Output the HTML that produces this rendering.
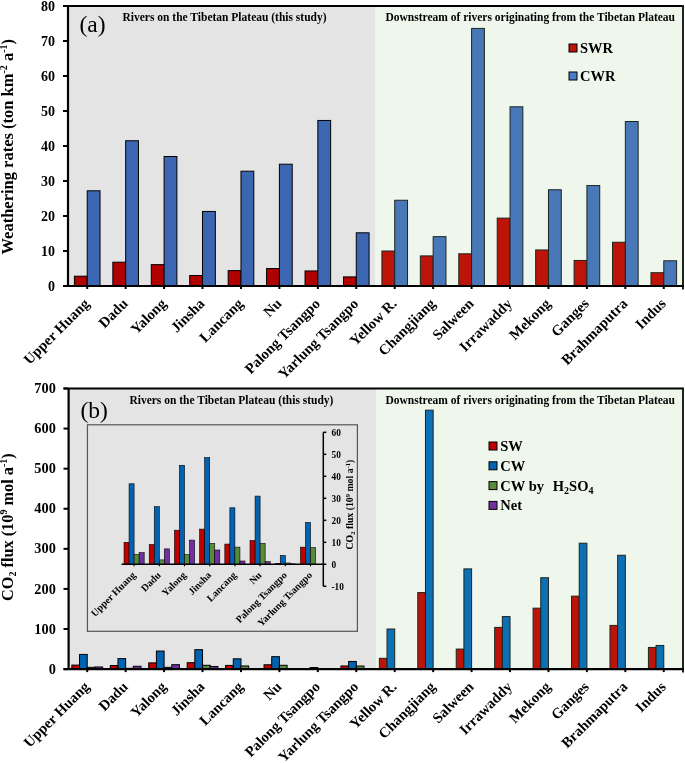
<!DOCTYPE html>
<html><head><meta charset="utf-8"><style>
html,body{margin:0;padding:0;background:#fff;width:685px;height:763px;overflow:hidden}
svg{display:block;will-change:transform}
</style></head><body>
<svg width="685" height="763" viewBox="0 0 685 763">
<rect x="68.0" y="6.0" width="307.0" height="280.0" fill="#e4e4e4"/>
<rect x="375.0" y="6.0" width="308.0" height="280.0" fill="#eff6ec"/>
<rect x="74.41" y="276.20" width="12.81" height="9.80" fill="#b00000" stroke="#000" stroke-width="1"/>
<rect x="87.22" y="190.80" width="12.81" height="95.20" fill="#3d66b2" stroke="#000" stroke-width="1"/>
<rect x="112.84" y="262.20" width="12.81" height="23.80" fill="#b00000" stroke="#000" stroke-width="1"/>
<rect x="125.66" y="140.75" width="12.81" height="145.25" fill="#3d66b2" stroke="#000" stroke-width="1"/>
<rect x="151.28" y="264.65" width="12.81" height="21.35" fill="#b00000" stroke="#000" stroke-width="1"/>
<rect x="164.09" y="156.50" width="12.81" height="129.50" fill="#3d66b2" stroke="#000" stroke-width="1"/>
<rect x="189.72" y="275.50" width="12.81" height="10.50" fill="#b00000" stroke="#000" stroke-width="1"/>
<rect x="202.53" y="211.45" width="12.81" height="74.55" fill="#3d66b2" stroke="#000" stroke-width="1"/>
<rect x="228.16" y="270.60" width="12.81" height="15.40" fill="#b00000" stroke="#000" stroke-width="1"/>
<rect x="240.97" y="171.20" width="12.81" height="114.80" fill="#3d66b2" stroke="#000" stroke-width="1"/>
<rect x="266.59" y="268.50" width="12.81" height="17.50" fill="#b00000" stroke="#000" stroke-width="1"/>
<rect x="279.41" y="164.20" width="12.81" height="121.80" fill="#3d66b2" stroke="#000" stroke-width="1"/>
<rect x="305.03" y="270.95" width="12.81" height="15.05" fill="#b00000" stroke="#000" stroke-width="1"/>
<rect x="317.84" y="120.45" width="12.81" height="165.55" fill="#3d66b2" stroke="#000" stroke-width="1"/>
<rect x="343.47" y="276.90" width="12.81" height="9.10" fill="#b00000" stroke="#000" stroke-width="1"/>
<rect x="356.28" y="232.80" width="12.81" height="53.20" fill="#3d66b2" stroke="#000" stroke-width="1"/>
<rect x="381.91" y="251.00" width="12.81" height="35.00" fill="#bd140a" stroke="#1c2620" stroke-width="1"/>
<rect x="394.72" y="200.25" width="12.81" height="85.75" fill="#4878b8" stroke="#1c2620" stroke-width="1"/>
<rect x="420.34" y="255.90" width="12.81" height="30.10" fill="#bd140a" stroke="#1c2620" stroke-width="1"/>
<rect x="433.16" y="236.65" width="12.81" height="49.35" fill="#4878b8" stroke="#1c2620" stroke-width="1"/>
<rect x="458.78" y="253.80" width="12.81" height="32.20" fill="#bd140a" stroke="#1c2620" stroke-width="1"/>
<rect x="471.59" y="28.40" width="12.81" height="257.60" fill="#4878b8" stroke="#1c2620" stroke-width="1"/>
<rect x="497.22" y="218.10" width="12.81" height="67.90" fill="#bd140a" stroke="#1c2620" stroke-width="1"/>
<rect x="510.03" y="106.80" width="12.81" height="179.20" fill="#4878b8" stroke="#1c2620" stroke-width="1"/>
<rect x="535.66" y="249.95" width="12.81" height="36.05" fill="#bd140a" stroke="#1c2620" stroke-width="1"/>
<rect x="548.47" y="189.75" width="12.81" height="96.25" fill="#4878b8" stroke="#1c2620" stroke-width="1"/>
<rect x="574.09" y="260.45" width="12.81" height="25.55" fill="#bd140a" stroke="#1c2620" stroke-width="1"/>
<rect x="586.91" y="185.55" width="12.81" height="100.45" fill="#4878b8" stroke="#1c2620" stroke-width="1"/>
<rect x="612.53" y="242.25" width="12.81" height="43.75" fill="#bd140a" stroke="#1c2620" stroke-width="1"/>
<rect x="625.34" y="121.50" width="12.81" height="164.50" fill="#4878b8" stroke="#1c2620" stroke-width="1"/>
<rect x="650.97" y="272.70" width="12.81" height="13.30" fill="#bd140a" stroke="#1c2620" stroke-width="1"/>
<rect x="663.78" y="260.80" width="12.81" height="25.20" fill="#4878b8" stroke="#1c2620" stroke-width="1"/>
<path d="M68.0 6.0 V286.0" stroke="#000" stroke-width="2.2" fill="none"/>
<path d="M63.0 6.0 H683.0" stroke="#000" stroke-width="2" fill="none"/>
<path d="M683.0 5.0 V289.5" stroke="#1a241a" stroke-width="2" fill="none"/>
<path d="M63.0 286.0 H684.0" stroke="#000" stroke-width="2.2" fill="none"/>
<path d="M63.0 286.00 H68.0" stroke="#000" stroke-width="2"/>
<text x="55.0" y="290.50" text-anchor="end" style="font-family:'Liberation Serif',serif;font-weight:bold;font-size:14px">0</text>
<path d="M63.0 251.00 H68.0" stroke="#000" stroke-width="2"/>
<text x="55.0" y="255.50" text-anchor="end" style="font-family:'Liberation Serif',serif;font-weight:bold;font-size:14px">10</text>
<path d="M63.0 216.00 H68.0" stroke="#000" stroke-width="2"/>
<text x="55.0" y="220.50" text-anchor="end" style="font-family:'Liberation Serif',serif;font-weight:bold;font-size:14px">20</text>
<path d="M63.0 181.00 H68.0" stroke="#000" stroke-width="2"/>
<text x="55.0" y="185.50" text-anchor="end" style="font-family:'Liberation Serif',serif;font-weight:bold;font-size:14px">30</text>
<path d="M63.0 146.00 H68.0" stroke="#000" stroke-width="2"/>
<text x="55.0" y="150.50" text-anchor="end" style="font-family:'Liberation Serif',serif;font-weight:bold;font-size:14px">40</text>
<path d="M63.0 111.00 H68.0" stroke="#000" stroke-width="2"/>
<text x="55.0" y="115.50" text-anchor="end" style="font-family:'Liberation Serif',serif;font-weight:bold;font-size:14px">50</text>
<path d="M63.0 76.00 H68.0" stroke="#000" stroke-width="2"/>
<text x="55.0" y="80.50" text-anchor="end" style="font-family:'Liberation Serif',serif;font-weight:bold;font-size:14px">60</text>
<path d="M63.0 41.00 H68.0" stroke="#000" stroke-width="2"/>
<text x="55.0" y="45.50" text-anchor="end" style="font-family:'Liberation Serif',serif;font-weight:bold;font-size:14px">70</text>
<path d="M63.0 6.00 H68.0" stroke="#000" stroke-width="2"/>
<text x="55.0" y="10.50" text-anchor="end" style="font-family:'Liberation Serif',serif;font-weight:bold;font-size:14px">80</text>
<path d="M87.22 286.0 V289.0" stroke="#000" stroke-width="2"/>
<text transform="translate(90.22,304.5) rotate(-45)" text-anchor="end" style="font-family:'Liberation Serif',serif;font-weight:bold;font-size:14.7px">Upper Huang</text>
<path d="M125.66 286.0 V289.0" stroke="#000" stroke-width="2"/>
<text transform="translate(128.66,304.5) rotate(-45)" text-anchor="end" style="font-family:'Liberation Serif',serif;font-weight:bold;font-size:14.7px">Dadu</text>
<path d="M164.09 286.0 V289.0" stroke="#000" stroke-width="2"/>
<text transform="translate(167.09,304.5) rotate(-45)" text-anchor="end" style="font-family:'Liberation Serif',serif;font-weight:bold;font-size:14.7px">Yalong</text>
<path d="M202.53 286.0 V289.0" stroke="#000" stroke-width="2"/>
<text transform="translate(205.53,304.5) rotate(-45)" text-anchor="end" style="font-family:'Liberation Serif',serif;font-weight:bold;font-size:14.7px">Jinsha</text>
<path d="M240.97 286.0 V289.0" stroke="#000" stroke-width="2"/>
<text transform="translate(243.97,304.5) rotate(-45)" text-anchor="end" style="font-family:'Liberation Serif',serif;font-weight:bold;font-size:14.7px">Lancang</text>
<path d="M279.41 286.0 V289.0" stroke="#000" stroke-width="2"/>
<text transform="translate(282.41,304.5) rotate(-45)" text-anchor="end" style="font-family:'Liberation Serif',serif;font-weight:bold;font-size:14.7px">Nu</text>
<path d="M317.84 286.0 V289.0" stroke="#000" stroke-width="2"/>
<text transform="translate(320.84,304.5) rotate(-45)" text-anchor="end" style="font-family:'Liberation Serif',serif;font-weight:bold;font-size:14.7px">Palong Tsangpo</text>
<path d="M356.28 286.0 V289.0" stroke="#000" stroke-width="2"/>
<text transform="translate(359.28,304.5) rotate(-45)" text-anchor="end" style="font-family:'Liberation Serif',serif;font-weight:bold;font-size:14.7px">Yarlung Tsangpo</text>
<path d="M394.72 286.0 V289.0" stroke="#000" stroke-width="2"/>
<text transform="translate(397.72,304.5) rotate(-45)" text-anchor="end" style="font-family:'Liberation Serif',serif;font-weight:bold;font-size:14.7px">Yellow R.</text>
<path d="M433.16 286.0 V289.0" stroke="#000" stroke-width="2"/>
<text transform="translate(436.16,304.5) rotate(-45)" text-anchor="end" style="font-family:'Liberation Serif',serif;font-weight:bold;font-size:14.7px">Changjiang</text>
<path d="M471.59 286.0 V289.0" stroke="#000" stroke-width="2"/>
<text transform="translate(474.59,304.5) rotate(-45)" text-anchor="end" style="font-family:'Liberation Serif',serif;font-weight:bold;font-size:14.7px">Salween</text>
<path d="M510.03 286.0 V289.0" stroke="#000" stroke-width="2"/>
<text transform="translate(513.03,304.5) rotate(-45)" text-anchor="end" style="font-family:'Liberation Serif',serif;font-weight:bold;font-size:14.7px">Irrawaddy</text>
<path d="M548.47 286.0 V289.0" stroke="#000" stroke-width="2"/>
<text transform="translate(551.47,304.5) rotate(-45)" text-anchor="end" style="font-family:'Liberation Serif',serif;font-weight:bold;font-size:14.7px">Mekong</text>
<path d="M586.91 286.0 V289.0" stroke="#000" stroke-width="2"/>
<text transform="translate(589.91,304.5) rotate(-45)" text-anchor="end" style="font-family:'Liberation Serif',serif;font-weight:bold;font-size:14.7px">Ganges</text>
<path d="M625.34 286.0 V289.0" stroke="#000" stroke-width="2"/>
<text transform="translate(628.34,304.5) rotate(-45)" text-anchor="end" style="font-family:'Liberation Serif',serif;font-weight:bold;font-size:14.7px">Brahmaputra</text>
<path d="M663.78 286.0 V289.0" stroke="#000" stroke-width="2"/>
<text transform="translate(666.78,304.5) rotate(-45)" text-anchor="end" style="font-family:'Liberation Serif',serif;font-weight:bold;font-size:14.7px">Indus</text>
<text x="79.5" y="31.8" style="font-family:'Liberation Serif',serif;font-size:23.5px">(a)</text>
<text x="122.5" y="21" style="font-family:'Liberation Serif',serif;font-weight:bold;font-size:11.5px">Rivers on the Tibetan Plateau (this study)</text>
<text x="385.5" y="21" style="font-family:'Liberation Serif',serif;font-weight:bold;font-size:11.5px">Downstream of rivers originating from the Tibetan Plateau</text>
<rect x="569" y="44" width="8" height="8" fill="#bd140a" stroke="#000" stroke-width="1"/>
<text x="580" y="53" style="font-family:'Liberation Serif',serif;font-weight:bold;font-size:14.5px">SWR</text>
<rect x="569" y="72" width="8" height="8" fill="#4a7cc8" stroke="#000" stroke-width="1"/>
<text x="580" y="81" style="font-family:'Liberation Serif',serif;font-weight:bold;font-size:14.5px">CWR</text>
<text transform="translate(12.5,254.5) rotate(-90)" style="font-family:'Liberation Serif',serif;font-weight:bold;font-size:16.5px">Weathering rates (ton km<tspan font-size="10" dy="-6">-2</tspan><tspan dy="6"> a</tspan><tspan font-size="10" dy="-6">-1</tspan><tspan dy="6">)</tspan></text>
<rect x="68.0" y="388.5" width="308.0" height="280.6" fill="#e4e4e4"/>
<rect x="376.0" y="388.5" width="307.0" height="280.6" fill="#eff6ec"/>
<rect x="71.84" y="665.09" width="7.69" height="4.01" fill="#c00000" stroke="#000" stroke-width="1"/>
<rect x="79.53" y="654.43" width="7.69" height="14.67" fill="#0062b0" stroke="#000" stroke-width="1"/>
<rect x="87.22" y="667.34" width="7.69" height="1.76" fill="#5a8a3c" stroke="#000" stroke-width="1"/>
<rect x="94.91" y="666.98" width="7.69" height="2.12" fill="#7030a0" stroke="#000" stroke-width="1"/>
<rect x="110.28" y="665.49" width="7.69" height="3.61" fill="#c00000" stroke="#000" stroke-width="1"/>
<rect x="117.97" y="658.60" width="7.69" height="10.50" fill="#0062b0" stroke="#000" stroke-width="1"/>
<rect x="125.66" y="668.30" width="7.69" height="0.80" fill="#5a8a3c" stroke="#000" stroke-width="1"/>
<rect x="133.34" y="666.29" width="7.69" height="2.81" fill="#7030a0" stroke="#000" stroke-width="1"/>
<rect x="148.72" y="662.89" width="7.69" height="6.21" fill="#c00000" stroke="#000" stroke-width="1"/>
<rect x="156.41" y="651.06" width="7.69" height="18.04" fill="#0062b0" stroke="#000" stroke-width="1"/>
<rect x="164.09" y="667.34" width="7.69" height="1.76" fill="#5a8a3c" stroke="#000" stroke-width="1"/>
<rect x="171.78" y="664.69" width="7.69" height="4.41" fill="#7030a0" stroke="#000" stroke-width="1"/>
<rect x="187.16" y="662.69" width="7.69" height="6.41" fill="#c00000" stroke="#000" stroke-width="1"/>
<rect x="194.84" y="649.66" width="7.69" height="19.44" fill="#0062b0" stroke="#000" stroke-width="1"/>
<rect x="202.53" y="665.29" width="7.69" height="3.81" fill="#5a8a3c" stroke="#000" stroke-width="1"/>
<rect x="210.22" y="666.49" width="7.69" height="2.61" fill="#7030a0" stroke="#000" stroke-width="1"/>
<rect x="225.59" y="665.41" width="7.69" height="3.69" fill="#c00000" stroke="#000" stroke-width="1"/>
<rect x="233.28" y="658.80" width="7.69" height="10.30" fill="#0062b0" stroke="#000" stroke-width="1"/>
<rect x="240.97" y="665.97" width="7.69" height="3.13" fill="#5a8a3c" stroke="#000" stroke-width="1"/>
<rect x="248.66" y="668.50" width="7.69" height="0.60" fill="#7030a0" stroke="#000" stroke-width="1"/>
<rect x="264.03" y="664.77" width="7.69" height="4.33" fill="#c00000" stroke="#000" stroke-width="1"/>
<rect x="271.72" y="656.67" width="7.69" height="12.43" fill="#0062b0" stroke="#000" stroke-width="1"/>
<rect x="279.41" y="665.29" width="7.69" height="3.81" fill="#5a8a3c" stroke="#000" stroke-width="1"/>
<rect x="287.09" y="668.62" width="7.69" height="0.48" fill="#7030a0" stroke="#000" stroke-width="1"/>
<rect x="302.47" y="668.94" width="7.69" height="0.16" fill="#c00000" stroke="#000" stroke-width="1"/>
<rect x="310.16" y="667.50" width="7.69" height="1.60" fill="#0062b0" stroke="#000" stroke-width="1"/>
<rect x="317.84" y="668.86" width="7.69" height="0.24" fill="#5a8a3c" stroke="#000" stroke-width="1"/>
<rect x="325.53" y="669.02" width="7.69" height="0.08" fill="#7030a0" stroke="#000" stroke-width="1"/>
<rect x="340.91" y="665.97" width="7.69" height="3.13" fill="#c00000" stroke="#000" stroke-width="1"/>
<rect x="348.59" y="661.48" width="7.69" height="7.62" fill="#0062b0" stroke="#000" stroke-width="1"/>
<rect x="356.28" y="666.05" width="7.69" height="3.05" fill="#5a8a3c" stroke="#000" stroke-width="1"/>
<rect x="379.34" y="658.28" width="7.69" height="10.82" fill="#bd140a" stroke="#1c2620" stroke-width="1"/>
<rect x="387.03" y="629.01" width="7.69" height="40.09" fill="#0c70b4" stroke="#1c2620" stroke-width="1"/>
<rect x="417.78" y="592.54" width="7.69" height="76.56" fill="#bd140a" stroke="#1c2620" stroke-width="1"/>
<rect x="425.47" y="410.15" width="7.69" height="258.95" fill="#0c70b4" stroke="#1c2620" stroke-width="1"/>
<rect x="456.22" y="649.06" width="7.69" height="20.04" fill="#bd140a" stroke="#1c2620" stroke-width="1"/>
<rect x="463.91" y="568.89" width="7.69" height="100.21" fill="#0c70b4" stroke="#1c2620" stroke-width="1"/>
<rect x="494.66" y="627.41" width="7.69" height="41.69" fill="#bd140a" stroke="#1c2620" stroke-width="1"/>
<rect x="502.34" y="616.59" width="7.69" height="52.51" fill="#0c70b4" stroke="#1c2620" stroke-width="1"/>
<rect x="533.09" y="608.17" width="7.69" height="60.93" fill="#bd140a" stroke="#1c2620" stroke-width="1"/>
<rect x="540.78" y="577.70" width="7.69" height="91.40" fill="#0c70b4" stroke="#1c2620" stroke-width="1"/>
<rect x="571.53" y="596.14" width="7.69" height="72.96" fill="#bd140a" stroke="#1c2620" stroke-width="1"/>
<rect x="579.22" y="543.23" width="7.69" height="125.87" fill="#0c70b4" stroke="#1c2620" stroke-width="1"/>
<rect x="609.97" y="625.41" width="7.69" height="43.69" fill="#bd140a" stroke="#1c2620" stroke-width="1"/>
<rect x="617.66" y="555.26" width="7.69" height="113.84" fill="#0c70b4" stroke="#1c2620" stroke-width="1"/>
<rect x="648.41" y="647.45" width="7.69" height="21.65" fill="#bd140a" stroke="#1c2620" stroke-width="1"/>
<rect x="656.09" y="645.45" width="7.69" height="23.65" fill="#0c70b4" stroke="#1c2620" stroke-width="1"/>
<path d="M68.6 388.5 V669.1" stroke="#000" stroke-width="2.2" fill="none"/>
<path d="M63.5 388.5 H683.0" stroke="#000" stroke-width="2" fill="none"/>
<path d="M683.0 387.5 V672.6" stroke="#1a241a" stroke-width="2" fill="none"/>
<path d="M63.5 669.1 H684.0" stroke="#000" stroke-width="2.2" fill="none"/>
<path d="M63.5 669.10 H68.0" stroke="#000" stroke-width="2"/>
<text x="55.8" y="673.70" text-anchor="end" style="font-family:'Liberation Serif',serif;font-weight:bold;font-size:14.3px">0</text>
<path d="M63.5 629.01 H68.0" stroke="#000" stroke-width="2"/>
<text x="55.8" y="633.61" text-anchor="end" style="font-family:'Liberation Serif',serif;font-weight:bold;font-size:14.3px">100</text>
<path d="M63.5 588.93 H68.0" stroke="#000" stroke-width="2"/>
<text x="55.8" y="593.53" text-anchor="end" style="font-family:'Liberation Serif',serif;font-weight:bold;font-size:14.3px">200</text>
<path d="M63.5 548.84 H68.0" stroke="#000" stroke-width="2"/>
<text x="55.8" y="553.44" text-anchor="end" style="font-family:'Liberation Serif',serif;font-weight:bold;font-size:14.3px">300</text>
<path d="M63.5 508.76 H68.0" stroke="#000" stroke-width="2"/>
<text x="55.8" y="513.36" text-anchor="end" style="font-family:'Liberation Serif',serif;font-weight:bold;font-size:14.3px">400</text>
<path d="M63.5 468.67 H68.0" stroke="#000" stroke-width="2"/>
<text x="55.8" y="473.27" text-anchor="end" style="font-family:'Liberation Serif',serif;font-weight:bold;font-size:14.3px">500</text>
<path d="M63.5 428.59 H68.0" stroke="#000" stroke-width="2"/>
<text x="55.8" y="433.19" text-anchor="end" style="font-family:'Liberation Serif',serif;font-weight:bold;font-size:14.3px">600</text>
<path d="M63.5 388.50 H68.0" stroke="#000" stroke-width="2"/>
<text x="55.8" y="393.10" text-anchor="end" style="font-family:'Liberation Serif',serif;font-weight:bold;font-size:14.3px">700</text>
<path d="M87.22 669.1 V672.1" stroke="#000" stroke-width="2"/>
<text transform="translate(90.22,687.6) rotate(-45)" text-anchor="end" style="font-family:'Liberation Serif',serif;font-weight:bold;font-size:14.7px">Upper Huang</text>
<path d="M125.66 669.1 V672.1" stroke="#000" stroke-width="2"/>
<text transform="translate(128.66,687.6) rotate(-45)" text-anchor="end" style="font-family:'Liberation Serif',serif;font-weight:bold;font-size:14.7px">Dadu</text>
<path d="M164.09 669.1 V672.1" stroke="#000" stroke-width="2"/>
<text transform="translate(167.09,687.6) rotate(-45)" text-anchor="end" style="font-family:'Liberation Serif',serif;font-weight:bold;font-size:14.7px">Yalong</text>
<path d="M202.53 669.1 V672.1" stroke="#000" stroke-width="2"/>
<text transform="translate(205.53,687.6) rotate(-45)" text-anchor="end" style="font-family:'Liberation Serif',serif;font-weight:bold;font-size:14.7px">Jinsha</text>
<path d="M240.97 669.1 V672.1" stroke="#000" stroke-width="2"/>
<text transform="translate(243.97,687.6) rotate(-45)" text-anchor="end" style="font-family:'Liberation Serif',serif;font-weight:bold;font-size:14.7px">Lancang</text>
<path d="M279.41 669.1 V672.1" stroke="#000" stroke-width="2"/>
<text transform="translate(282.41,687.6) rotate(-45)" text-anchor="end" style="font-family:'Liberation Serif',serif;font-weight:bold;font-size:14.7px">Nu</text>
<path d="M317.84 669.1 V672.1" stroke="#000" stroke-width="2"/>
<text transform="translate(320.84,687.6) rotate(-45)" text-anchor="end" style="font-family:'Liberation Serif',serif;font-weight:bold;font-size:14.7px">Palong Tsangpo</text>
<path d="M356.28 669.1 V672.1" stroke="#000" stroke-width="2"/>
<text transform="translate(359.28,687.6) rotate(-45)" text-anchor="end" style="font-family:'Liberation Serif',serif;font-weight:bold;font-size:14.7px">Yarlung Tsangpo</text>
<path d="M394.72 669.1 V672.1" stroke="#000" stroke-width="2"/>
<text transform="translate(397.72,687.6) rotate(-45)" text-anchor="end" style="font-family:'Liberation Serif',serif;font-weight:bold;font-size:14.7px">Yellow R.</text>
<path d="M433.16 669.1 V672.1" stroke="#000" stroke-width="2"/>
<text transform="translate(436.16,687.6) rotate(-45)" text-anchor="end" style="font-family:'Liberation Serif',serif;font-weight:bold;font-size:14.7px">Changjiang</text>
<path d="M471.59 669.1 V672.1" stroke="#000" stroke-width="2"/>
<text transform="translate(474.59,687.6) rotate(-45)" text-anchor="end" style="font-family:'Liberation Serif',serif;font-weight:bold;font-size:14.7px">Salween</text>
<path d="M510.03 669.1 V672.1" stroke="#000" stroke-width="2"/>
<text transform="translate(513.03,687.6) rotate(-45)" text-anchor="end" style="font-family:'Liberation Serif',serif;font-weight:bold;font-size:14.7px">Irrawaddy</text>
<path d="M548.47 669.1 V672.1" stroke="#000" stroke-width="2"/>
<text transform="translate(551.47,687.6) rotate(-45)" text-anchor="end" style="font-family:'Liberation Serif',serif;font-weight:bold;font-size:14.7px">Mekong</text>
<path d="M586.91 669.1 V672.1" stroke="#000" stroke-width="2"/>
<text transform="translate(589.91,687.6) rotate(-45)" text-anchor="end" style="font-family:'Liberation Serif',serif;font-weight:bold;font-size:14.7px">Ganges</text>
<path d="M625.34 669.1 V672.1" stroke="#000" stroke-width="2"/>
<text transform="translate(628.34,687.6) rotate(-45)" text-anchor="end" style="font-family:'Liberation Serif',serif;font-weight:bold;font-size:14.7px">Brahmaputra</text>
<path d="M663.78 669.1 V672.1" stroke="#000" stroke-width="2"/>
<text transform="translate(666.78,687.6) rotate(-45)" text-anchor="end" style="font-family:'Liberation Serif',serif;font-weight:bold;font-size:14.7px">Indus</text>
<text x="80.5" y="418" style="font-family:'Liberation Serif',serif;font-size:23.5px">(b)</text>
<text x="129.4" y="404.2" style="font-family:'Liberation Serif',serif;font-weight:bold;font-size:11.5px">Rivers on the Tibetan Plateau (this study)</text>
<text x="385.5" y="404.2" style="font-family:'Liberation Serif',serif;font-weight:bold;font-size:11.5px">Downstream of rivers originating from the Tibetan Plateau</text>
<rect x="489" y="442.0" width="8" height="8" fill="#c00000" stroke="#000" stroke-width="1"/>
<text x="500.3" y="451.0" style="font-family:'Liberation Serif',serif;font-weight:bold;font-size:14.5px">SW</text>
<rect x="489" y="461.8" width="8" height="8" fill="#0062b0" stroke="#000" stroke-width="1"/>
<text x="500.3" y="470.8" style="font-family:'Liberation Serif',serif;font-weight:bold;font-size:14.5px">CW</text>
<rect x="489" y="481.6" width="8" height="8" fill="#5a8a3c" stroke="#000" stroke-width="1"/>
<text x="500.3" y="490.6" style="font-family:'Liberation Serif',serif;font-weight:bold;font-size:14.5px">CW by</text>
<rect x="489" y="501.4" width="8" height="8" fill="#7030a0" stroke="#000" stroke-width="1"/>
<text x="500.3" y="510.4" style="font-family:'Liberation Serif',serif;font-weight:bold;font-size:14.5px">Net</text>
<text x="552.8" y="490.6" style="font-family:'Liberation Serif',serif;font-weight:bold;font-size:14.5px">H<tspan font-size="10" dy="3">2</tspan><tspan dy="-3">SO</tspan><tspan font-size="10" dy="3">4</tspan></text>
<text transform="translate(13.2,601) rotate(-90)" style="font-family:'Liberation Serif',serif;font-weight:bold;font-size:16.3px">CO<tspan font-size="10" dy="3">2</tspan><tspan dy="-3"> flux (10</tspan><tspan font-size="10" dy="-6">9</tspan><tspan dy="6"> mol a</tspan><tspan font-size="10" dy="-6">-1</tspan><tspan dy="6">)</tspan></text>
<rect x="87.45" y="424.8" width="269.95" height="206.49999999999994" fill="#e4e4e4" stroke="#555" stroke-width="1.2"/>
<rect x="124.02" y="542.30" width="5.04" height="22.00" fill="#c00000" stroke="#000" stroke-width="0.6"/>
<rect x="129.06" y="483.78" width="5.04" height="80.52" fill="#0062b0" stroke="#000" stroke-width="0.6"/>
<rect x="134.10" y="554.62" width="5.04" height="9.68" fill="#5a8a3c" stroke="#000" stroke-width="0.6"/>
<rect x="139.14" y="552.64" width="5.04" height="11.66" fill="#7030a0" stroke="#000" stroke-width="0.6"/>
<rect x="149.22" y="544.50" width="5.04" height="19.80" fill="#c00000" stroke="#000" stroke-width="0.6"/>
<rect x="154.26" y="506.66" width="5.04" height="57.64" fill="#0062b0" stroke="#000" stroke-width="0.6"/>
<rect x="159.30" y="559.90" width="5.04" height="4.40" fill="#5a8a3c" stroke="#000" stroke-width="0.6"/>
<rect x="164.34" y="548.90" width="5.04" height="15.40" fill="#7030a0" stroke="#000" stroke-width="0.6"/>
<rect x="174.42" y="530.20" width="5.04" height="34.10" fill="#c00000" stroke="#000" stroke-width="0.6"/>
<rect x="179.46" y="465.30" width="5.04" height="99.00" fill="#0062b0" stroke="#000" stroke-width="0.6"/>
<rect x="184.50" y="554.62" width="5.04" height="9.68" fill="#5a8a3c" stroke="#000" stroke-width="0.6"/>
<rect x="189.54" y="540.10" width="5.04" height="24.20" fill="#7030a0" stroke="#000" stroke-width="0.6"/>
<rect x="199.62" y="529.10" width="5.04" height="35.20" fill="#c00000" stroke="#000" stroke-width="0.6"/>
<rect x="204.66" y="457.60" width="5.04" height="106.70" fill="#0062b0" stroke="#000" stroke-width="0.6"/>
<rect x="209.70" y="543.40" width="5.04" height="20.90" fill="#5a8a3c" stroke="#000" stroke-width="0.6"/>
<rect x="214.74" y="550.00" width="5.04" height="14.30" fill="#7030a0" stroke="#000" stroke-width="0.6"/>
<rect x="224.82" y="544.06" width="5.04" height="20.24" fill="#c00000" stroke="#000" stroke-width="0.6"/>
<rect x="229.86" y="507.76" width="5.04" height="56.54" fill="#0062b0" stroke="#000" stroke-width="0.6"/>
<rect x="234.90" y="547.14" width="5.04" height="17.16" fill="#5a8a3c" stroke="#000" stroke-width="0.6"/>
<rect x="239.94" y="561.00" width="5.04" height="3.30" fill="#7030a0" stroke="#000" stroke-width="0.6"/>
<rect x="250.02" y="540.54" width="5.04" height="23.76" fill="#c00000" stroke="#000" stroke-width="0.6"/>
<rect x="255.06" y="496.10" width="5.04" height="68.20" fill="#0062b0" stroke="#000" stroke-width="0.6"/>
<rect x="260.10" y="543.40" width="5.04" height="20.90" fill="#5a8a3c" stroke="#000" stroke-width="0.6"/>
<rect x="265.14" y="561.66" width="5.04" height="2.64" fill="#7030a0" stroke="#000" stroke-width="0.6"/>
<rect x="275.22" y="563.42" width="5.04" height="0.88" fill="#c00000" stroke="#000" stroke-width="0.6"/>
<rect x="280.26" y="555.50" width="5.04" height="8.80" fill="#0062b0" stroke="#000" stroke-width="0.6"/>
<rect x="285.30" y="562.98" width="5.04" height="1.32" fill="#5a8a3c" stroke="#000" stroke-width="0.6"/>
<rect x="290.34" y="563.86" width="5.04" height="0.44" fill="#7030a0" stroke="#000" stroke-width="0.6"/>
<rect x="300.42" y="547.14" width="5.04" height="17.16" fill="#c00000" stroke="#000" stroke-width="0.6"/>
<rect x="305.46" y="522.50" width="5.04" height="41.80" fill="#0062b0" stroke="#000" stroke-width="0.6"/>
<rect x="310.50" y="547.58" width="5.04" height="16.72" fill="#5a8a3c" stroke="#000" stroke-width="0.6"/>
<path d="M121.5 564.3 H323.70000000000005" stroke="#000" stroke-width="1.5"/>
<path d="M323.3 432.29999999999995 V586.3" stroke="#000" stroke-width="1.5"/>
<path d="M323.3 586.30 H326.3" stroke="#000" stroke-width="1.5"/>
<text x="331.5" y="589.70" style="font-family:'Liberation Serif',serif;font-weight:bold;font-size:9.3px">-10</text>
<path d="M323.3 564.30 H326.3" stroke="#000" stroke-width="1.5"/>
<text x="331.5" y="567.70" style="font-family:'Liberation Serif',serif;font-weight:bold;font-size:9.3px">0</text>
<path d="M323.3 542.30 H326.3" stroke="#000" stroke-width="1.5"/>
<text x="331.5" y="545.70" style="font-family:'Liberation Serif',serif;font-weight:bold;font-size:9.3px">10</text>
<path d="M323.3 520.30 H326.3" stroke="#000" stroke-width="1.5"/>
<text x="331.5" y="523.70" style="font-family:'Liberation Serif',serif;font-weight:bold;font-size:9.3px">20</text>
<path d="M323.3 498.30 H326.3" stroke="#000" stroke-width="1.5"/>
<text x="331.5" y="501.70" style="font-family:'Liberation Serif',serif;font-weight:bold;font-size:9.3px">30</text>
<path d="M323.3 476.30 H326.3" stroke="#000" stroke-width="1.5"/>
<text x="331.5" y="479.70" style="font-family:'Liberation Serif',serif;font-weight:bold;font-size:9.3px">40</text>
<path d="M323.3 454.30 H326.3" stroke="#000" stroke-width="1.5"/>
<text x="331.5" y="457.70" style="font-family:'Liberation Serif',serif;font-weight:bold;font-size:9.3px">50</text>
<path d="M323.3 432.30 H326.3" stroke="#000" stroke-width="1.5"/>
<text x="331.5" y="435.70" style="font-family:'Liberation Serif',serif;font-weight:bold;font-size:9.3px">60</text>
<path d="M134.10 564.3 V566.3" stroke="#000" stroke-width="1.2"/>
<text transform="translate(136.30,575.8) rotate(-45)" text-anchor="end" style="font-family:'Liberation Serif',serif;font-weight:bold;font-size:10px">Upper Huang</text>
<path d="M159.30 564.3 V566.3" stroke="#000" stroke-width="1.2"/>
<text transform="translate(161.50,575.8) rotate(-45)" text-anchor="end" style="font-family:'Liberation Serif',serif;font-weight:bold;font-size:10px">Dadu</text>
<path d="M184.50 564.3 V566.3" stroke="#000" stroke-width="1.2"/>
<text transform="translate(186.70,575.8) rotate(-45)" text-anchor="end" style="font-family:'Liberation Serif',serif;font-weight:bold;font-size:10px">Yalong</text>
<path d="M209.70 564.3 V566.3" stroke="#000" stroke-width="1.2"/>
<text transform="translate(211.90,575.8) rotate(-45)" text-anchor="end" style="font-family:'Liberation Serif',serif;font-weight:bold;font-size:10px">Jinsha</text>
<path d="M234.90 564.3 V566.3" stroke="#000" stroke-width="1.2"/>
<text transform="translate(237.10,575.8) rotate(-45)" text-anchor="end" style="font-family:'Liberation Serif',serif;font-weight:bold;font-size:10px">Lancang</text>
<path d="M260.10 564.3 V566.3" stroke="#000" stroke-width="1.2"/>
<text transform="translate(262.30,575.8) rotate(-45)" text-anchor="end" style="font-family:'Liberation Serif',serif;font-weight:bold;font-size:10px">Nu</text>
<path d="M285.30 564.3 V566.3" stroke="#000" stroke-width="1.2"/>
<text transform="translate(287.50,575.8) rotate(-45)" text-anchor="end" style="font-family:'Liberation Serif',serif;font-weight:bold;font-size:10px">Palong Tsangpo</text>
<path d="M310.50 564.3 V566.3" stroke="#000" stroke-width="1.2"/>
<text transform="translate(312.70,575.8) rotate(-45)" text-anchor="end" style="font-family:'Liberation Serif',serif;font-weight:bold;font-size:10px">Yarlung Tsangpo</text>
<text transform="translate(353.4,549.5) rotate(-90)" style="font-family:'Liberation Serif',serif;font-weight:bold;font-size:9.8px">CO<tspan font-size="6.5" dy="2">2</tspan><tspan dy="-2"> flux (10</tspan><tspan font-size="6.5" dy="-3.5">9</tspan><tspan dy="3.5"> mol a</tspan><tspan font-size="6.5" dy="-3.5">-1</tspan><tspan dy="3.5">)</tspan></text>
</svg></body></html>
